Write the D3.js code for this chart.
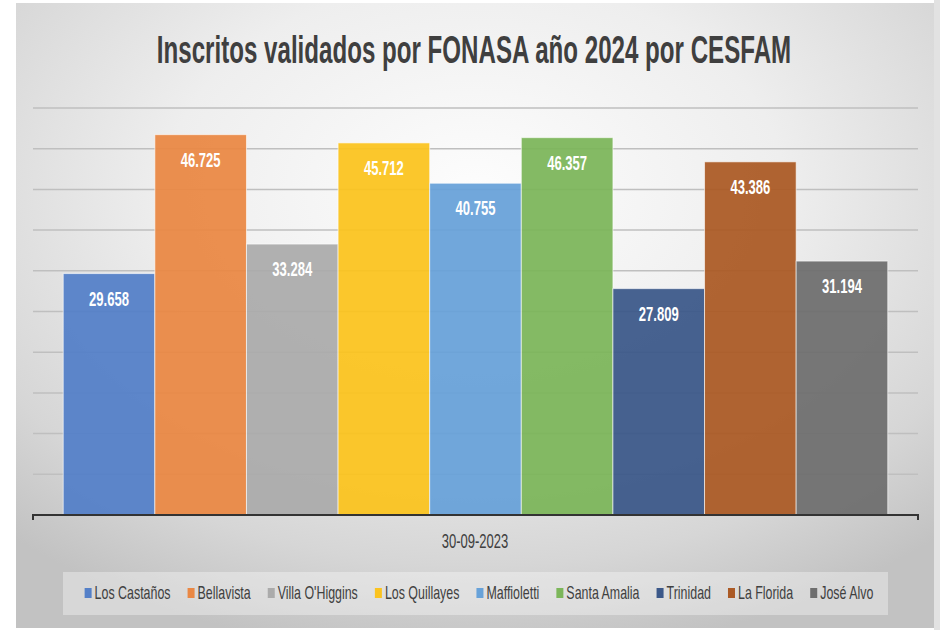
<!DOCTYPE html>
<html>
<head>
<meta charset="utf-8">
<script src="https://cdn.jsdelivr.net/npm/d3@7"></script>
<style>
  html, body { margin: 0; padding: 0; background: #fff; }
  svg { display: block; font-family: "Liberation Sans", Arial, sans-serif; }
</style>
</head>
<body>
<div id="chart"></div>
<script>
const titulo = "Inscritos validados por FONASA año 2024 por CESFAM";
const categoria = "30-09-2023";
const centros = ["Los Castaños", "Bellavista", "Villa O'Higgins", "Los Quillayes", "Maffioletti",
                 "Santa Amalia", "Trinidad", "La Florida", "José Alvo"];
const inscritos = [29658, 46725, 33284, 45712, 40755, 46357, 27809, 43386, 31194];
const colores = ["#5480c8", "#ea8844", "#ababab", "#fbc31f", "#68a2d9",
                 "#7cb65a", "#3b5889", "#ab5a25", "#6e6e6e"];
const yMax = 50000;

const width = 940, height = 630;
const svg = d3.select("#chart").append("svg")
    .attr("width", width)
    .attr("height", height);

const defs = svg.append("defs");
const grad = defs.append("radialGradient")
    .attr("id", "bg")
    .attr("cx", "50%").attr("cy", "30%").attr("r", "75%");
grad.append("stop").attr("offset", "0%").attr("stop-color", "#fdfdfd");
grad.append("stop").attr("offset", "45%").attr("stop-color", "#eeeeee");
grad.append("stop").attr("offset", "80%").attr("stop-color", "#d6d6d6");
grad.append("stop").attr("offset", "100%").attr("stop-color", "#c2c2c2");

// chart area background
svg.append("rect").attr("x", 934).attr("y", 0).attr("width", 6).attr("height", height).attr("fill", "#e2e2e2");
svg.append("rect")
    .attr("x", 16).attr("y", 3).attr("width", 918).attr("height", 625)
    .attr("fill", "url(#bg)");

const x = d3.scaleBand()
    .domain(centros)
    .range([33, 918])
    .paddingInner(0)
    .paddingOuter(0.33);

const y = d3.scaleLinear()
    .domain([0, yMax])
    .range([515, 108]);

const fmt = d3.formatLocale({ decimal: ",", thousands: ".", grouping: [3], currency: ["$", ""] }).format(",d");

// squeezed text helper (the source picture is narrow)
function label(g, txt, px, py, opts) {
  return g.append("text")
      .attr("transform", `translate(${px},${py}) scale(${opts.sx},1)`)
      .attr("text-anchor", opts.anchor || "middle")
      .attr("font-size", opts.size)
      .attr("font-weight", opts.weight || "normal")
      .attr("fill", opts.fill || "#404040")
      .text(txt);
}

// title
label(svg, titulo, 474, 63, { sx: 0.635, size: 38, weight: "bold", fill: "#3f3f3f" });

// gridlines
svg.append("g")
  .selectAll("line")
  .data(y.ticks(10).filter(d => d > 0))
  .join("line")
    .attr("x1", 33).attr("x2", 918)
    .attr("y1", d => y(d)).attr("y2", d => y(d))
    .attr("stroke", "#bfbfbf")
    .attr("stroke-width", 1.5);

// bars
const data = centros.map((c, i) => ({ name: c, value: inscritos[i], color: colores[i] }));
svg.append("g")
  .selectAll("rect")
  .data(data)
  .join("rect")
    .attr("x", d => x(d.name))
    .attr("y", d => y(d.value))
    .attr("width", x.bandwidth())
    .attr("height", d => y(0) - y(d.value))
    .attr("fill", d => d.color)
    .attr("fill-opacity", 0.94)
    .attr("stroke", "#ffffff")
    .attr("stroke-opacity", 0.6)
    .attr("stroke-width", 1);

// value labels
const vl = svg.append("g");
data.forEach(d => {
  label(vl, fmt(d.value), x(d.name) + x.bandwidth() / 2, y(d.value) + 32,
        { sx: 0.67, size: 19.5, weight: "bold", fill: "#ffffff" });
});

// axis baseline
const ax = svg.append("g").attr("fill", "none").attr("stroke", "#333").attr("stroke-width", 2);
ax.append("path")
  .attr("d", `M${x.range()[0]},${y(0) + 5}V${y(0)}H${x.range()[1]}V${y(0) + 5}`);

// category label
label(svg, categoria, 475, 548, { sx: 0.62, size: 21 });

// legend
const lg = svg.append("g");
lg.append("rect")
    .attr("x", 63).attr("y", 572).attr("width", 825).attr("height", 43)
    .attr("fill", "#ffffff").attr("fill-opacity", 0.35);

const legSx = 0.69, legSize = 18, legY = 599;
const items = lg.selectAll("g.item").data(data).join("g").attr("class", "item");
items.append("rect")
    .attr("width", 7).attr("height", 10)
    .attr("y", legY - 11)
    .attr("fill", d => d.color);
items.append("text")
    .attr("font-size", legSize)
    .attr("fill", "#404040")
    .text(d => d.name);

let widths = [];
items.select("text").each(function () { widths.push(this.getComputedTextLength() * legSx); });
const sq = 8, gap = 2, spacing = 17;
const total = d3.sum(widths) + data.length * (sq + gap) + (data.length - 1) * spacing;
let cx = 479 - total / 2;
items.each(function (d, i) {
  const g = d3.select(this);
  g.select("rect").attr("x", cx);
  g.select("text").attr("transform", `translate(${cx + sq + gap},${legY}) scale(${legSx},1)`);
  cx += sq + gap + widths[i] + spacing;
});
</script>
</body>
</html>
